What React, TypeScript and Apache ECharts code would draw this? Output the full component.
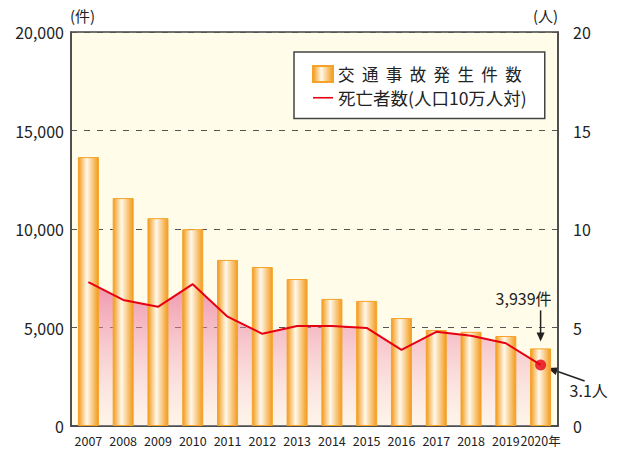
import React, { useEffect, useRef } from 'react';
import * as echarts from 'echarts';

const years = ['2007', '2008', '2009', '2010', '2011', '2012', '2013', '2014', '2015', '2016', '2017', '2018', '2019', '2020年'];
const accidents = [13650, 11570, 10550, 9990, 8430, 8070, 7460, 6450, 6350, 5480, 4870, 4780, 4570, 3939];
const deaths = [7.3, 6.4, 6.05, 7.2, 5.55, 4.68, 5.08, 5.08, 4.98, 3.86, 4.78, 4.58, 4.2, 3.1];
const seriesNames = ['交  通  事  故  発  生  件  数', '死亡者数(人口10万人対)'];
const annotationTexts = ['3,939件', '3.1人'];
const unitLabels = ['(件)', '(人)'];

const FONT = "'Noto Sans CJK JP', 'Noto Sans', sans-serif";

export default function App() {
  const ref = useRef<HTMLDivElement>(null);
  useEffect(() => {
    if (!ref.current) return;
    const chart = echarts.init(ref.current, undefined, { renderer: 'svg' });
    const barGrad = new echarts.graphic.LinearGradient(0, 0, 1, 0, [
      { offset: 0, color: '#f39a1a' },
      { offset: 0.42, color: '#fff9ec' },
      { offset: 1, color: '#f39a1a' },
    ]);
    chart.setOption({
      animation: false,
      textStyle: { fontFamily: FONT },
      grid: {
        left: 71, right: 72, top: 32, bottom: 29,
        show: true, backgroundColor: '#fffcea', borderColor: '#444', borderWidth: 1.5,
      },
      legend: {
        left: 294, top: 52, orient: 'vertical',
        backgroundColor: '#fff', borderColor: '#444', borderWidth: 1.5,
        padding: [13, 18, 12, 18], itemGap: 6, itemWidth: 20, itemHeight: 16,
        textStyle: { fontSize: 16.5, color: '#222', fontFamily: FONT },
        data: [
          { name: seriesNames[0], icon: 'rect' },
          { name: seriesNames[1], icon: 'path://M0,0L20,0L20,1.6L0,1.6Z', itemStyle: { color: '#e60012' }, textStyle: { fontSize: 17.5 } },
        ],
      },
      xAxis: {
        type: 'category', data: years,
        axisLine: { show: true, lineStyle: { color: '#444', width: 1.5 } },
        axisTick: { show: false },
        axisLabel: {
          fontSize: 12.5, color: '#222', margin: 8, interval: 0,
          fontFamily: FONT,
        },
      },
      yAxis: [
        {
          type: 'value', min: 0, max: 20000, interval: 5000,
          axisLine: { show: true, lineStyle: { color: '#444', width: 1.5 } },
          axisTick: { show: false },
          axisLabel: {
            fontSize: 16, color: '#222', margin: 7,
            formatter: (v: number) => v.toLocaleString('en-US'),
          },
          splitLine: { show: true, lineStyle: { color: '#555', type: [6, 7], width: 1.2 } },
        },
        {
          type: 'value', min: 0, max: 20, interval: 5,
          axisLine: { show: true, lineStyle: { color: '#444', width: 1.5 } },
          axisTick: { show: false },
          axisLabel: { fontSize: 16, color: '#222', margin: 15 },
          splitLine: { show: false },
        },
      ],
      series: [
        {
          name: 'area', type: 'line', yAxisIndex: 1, data: deaths, z: 1,
          symbol: 'none', lineStyle: { width: 0 }, silent: true,
          areaStyle: {
            color: new echarts.graphic.LinearGradient(0, 0, 0, 1, [
              { offset: 0, color: 'rgba(230,80,130,0.85)' },
              { offset: 0.35, color: 'rgba(236,130,165,0.7)' },
              { offset: 1, color: 'rgba(250,225,233,0.4)' },
            ]),
          },
        },
        {
          name: seriesNames[0], type: 'bar', data: accidents, barWidth: 21, z: 2,
          itemStyle: { color: barGrad, borderColor: '#f5a328', borderWidth: 1 },
        },
        {
          name: seriesNames[1], type: 'line', yAxisIndex: 1, data: deaths, z: 3,
          symbol: 'none', lineStyle: { color: '#e60012', width: 2 },
          itemStyle: { color: '#e60012' },
        },
        {
          name: 'dot', type: 'scatter', yAxisIndex: 1, z: 4,
          data: [[years.length - 1, deaths[deaths.length - 1]]],
          symbolSize: 11, itemStyle: { color: '#e60012' },
        },
      ],
    });

    const n = years.length - 1;
    const bp = chart.convertToPixel({ xAxisIndex: 0, yAxisIndex: 0 }, [n, accidents[n]]) as number[];
    const dp = chart.convertToPixel({ xAxisIndex: 0, yAxisIndex: 1 }, [n, deaths[n]]) as number[];
    const bx = bp[0], by = bp[1];
    const dx = dp[0], dy = dp[1];
    const tail = [dx + 44, dy + 16];
    const tip = [dx + 7, dy + 3];
    const ang = Math.atan2(tip[1] - tail[1], tip[0] - tail[0]);
    const hl = 10, hw = 4;
    const baseX = tip[0] - hl * Math.cos(ang), baseY = tip[1] - hl * Math.sin(ang);
    const px = -Math.sin(ang) * hw, py = Math.cos(ang) * hw;

    chart.setOption({
      graphic: [
        { type: 'text', left: 70, top: 8, style: { text: unitLabels[0], fontSize: 15, fill: '#222', fontFamily: FONT } },
        { type: 'text', left: 533, top: 8, style: { text: unitLabels[1], fontSize: 15, fill: '#222', fontFamily: FONT } },
        { type: 'text', x: bx - 17, y: by - 50, style: { text: annotationTexts[0], fontSize: 16, fill: '#222', fontFamily: FONT, align: 'center', verticalAlign: 'middle' } },
        { type: 'line', shape: { x1: bx, y1: by - 38, x2: bx, y2: by - 14 }, style: { stroke: '#222', lineWidth: 1.5 } },
        { type: 'polygon', shape: { points: [[bx - 4, by - 16], [bx + 4, by - 16], [bx, by - 7]] }, style: { fill: '#222' } },
        { type: 'line', shape: { x1: tail[0], y1: tail[1], x2: baseX, y2: baseY }, style: { stroke: '#222', lineWidth: 1.5 } },
        { type: 'polygon', shape: { points: [tip, [baseX + px, baseY + py], [baseX - px, baseY - py]] }, style: { fill: '#222' } },
        { type: 'text', x: dx + 29, y: dy + 25, style: { text: annotationTexts[1], fontSize: 16, fill: '#222', fontFamily: FONT, align: 'left', verticalAlign: 'middle' } },
      ],
    });
    return () => chart.dispose();
  }, []);
  return <div ref={ref} style={{ width: 630, height: 455, position: 'absolute', left: 0, top: 0 }} />;
}
